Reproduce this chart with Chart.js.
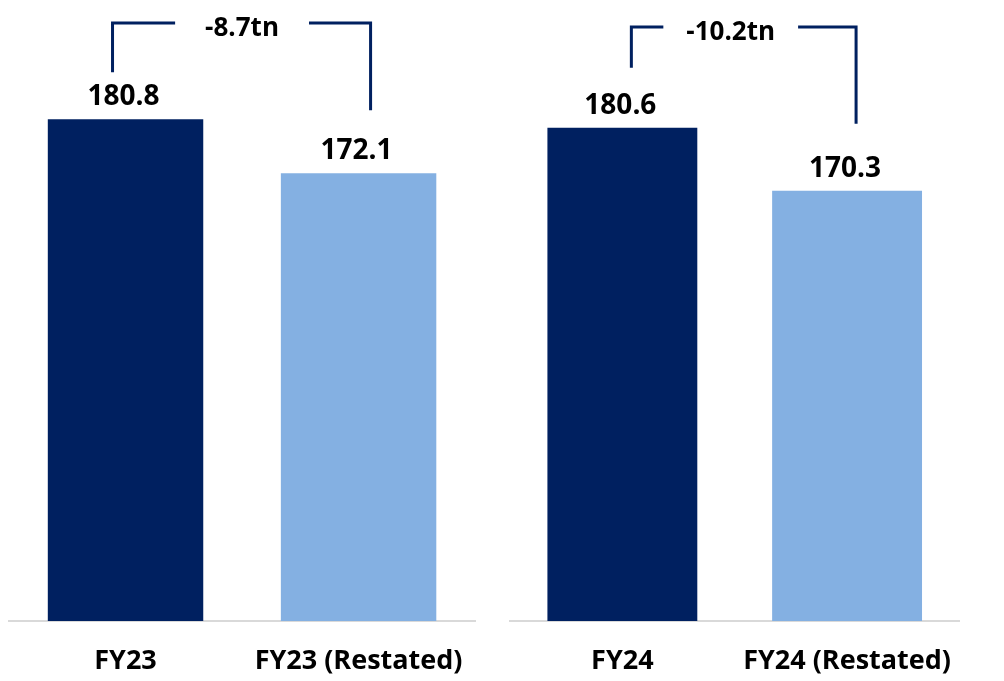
<!DOCTYPE html>
<html>
<head>
<meta charset="utf-8">
<script src="https://cdn.jsdelivr.net/npm/chart.js@4.4.1/dist/chart.umd.min.js"></script>
<style>
  html, body { margin: 0; padding: 0; background: #fff; }
  .wrap { position: relative; width: 1004px; height: 681px; overflow: hidden; }
  .panel { position: absolute; top: 0; height: 681px; }
  #left { left: 0; width: 490px; }
  #right { left: 500px; width: 480px; }
</style>
</head>
<body>
<div class="wrap">
  <div class="panel" id="left"><canvas id="c1"></canvas></div>
  <div class="panel" id="right"><canvas id="c2"></canvas></div>
</div>
<script>
// data
const fy23Labels = ['FY23', 'FY23 (Restated)'];
const fy23Values = [180.8, 172.1];
const fy23Change = '-8.7tn';

const fy24Labels = ['FY24', 'FY24 (Restated)'];
const fy24Values = [180.6, 170.3];
const fy24Change = '-10.2tn';

const barColors = ['#002060', '#84B0E2'];
const navy = '#002060';
const fontFamily = '"Open Sans", "Liberation Sans", sans-serif';

// value labels above each bar
const valueLabels = {
    id: 'valueLabels',
    afterDatasetsDraw(chart) {
        const ctx = chart.ctx;
        const meta = chart.getDatasetMeta(0);
        const data = chart.data.datasets[0].data;
        ctx.save();
        ctx.font = 'bold 28px ' + fontFamily;
        ctx.fillStyle = '#000';
        ctx.textAlign = 'center';
        ctx.textBaseline = 'alphabetic';
        meta.data.forEach((bar, i) => {
            ctx.fillText(data[i].toFixed(1), bar.x - 2, bar.y - 14);
        });
        ctx.restore();
    }
};

// bracket showing the change between the two bars
const changeBracket = {
    id: 'changeBracket',
    afterDatasetsDraw(chart, args, opts) {
        const ctx = chart.ctx;
        const bars = chart.getDatasetMeta(0).data;
        const lineY = chart.chartArea.top + opts.lineOffset;
        const x0 = bars[0].x + opts.dx[0];
        const x1 = bars[1].x + opts.dx[1];
        const mid = (bars[0].x + bars[1].x) / 2 + opts.textShift;

        ctx.save();
        ctx.font = 'bold 26px ' + fontFamily;
        const tw = ctx.measureText(opts.text).width;
        const gap = opts.gap;

        ctx.strokeStyle = navy;
        ctx.lineWidth = 3;
        ctx.lineCap = 'butt';
        ctx.beginPath();
        ctx.moveTo(x0, bars[0].y - opts.drop[0]);
        ctx.lineTo(x0, lineY);
        ctx.lineTo(mid - tw / 2 - gap, lineY);
        ctx.moveTo(mid + tw / 2 + gap, lineY);
        ctx.lineTo(x1, lineY);
        ctx.lineTo(x1, bars[1].y - opts.drop[1]);
        ctx.stroke();

        ctx.fillStyle = '#000';
        ctx.textAlign = 'center';
        ctx.textBaseline = 'middle';
        ctx.fillText(opts.text, mid, lineY + 6);
        ctx.restore();
    }
};

function makeChart(canvasId, labels, values, padding, bracket) {
    return new Chart(document.getElementById(canvasId), {
        type: 'bar',
        data: {
            labels: labels,
            datasets: [{
                data: values,
                backgroundColor: barColors,
                borderWidth: 0,
                barPercentage: 0.667,
                categoryPercentage: 1.0
            }]
        },
        options: {
            responsive: true,
            maintainAspectRatio: false,
            animation: false,
            layout: { padding: padding },
            plugins: {
                legend: { display: false },
                tooltip: { enabled: false },
                changeBracket: bracket
            },
            scales: {
                y: {
                    display: false,
                    min: 100,
                    max: 200
                },
                x: {
                    grid: { display: false, drawTicks: false },
                    border: { display: true, color: '#d9d9d9', width: 2 },
                    ticks: {
                        color: '#000',
                        padding: 24,
                        font: { family: fontFamily, size: 27, weight: 'bold' }
                    },
                    afterFit(scale) {
                        scale.height = 60;
                    }
                }
            }
        },
        plugins: [valueLabels, changeBracket]
    });
}

makeChart('c1', fy23Labels, fy23Values,
    { left: 9, right: 14, top: 0, bottom: 0 },
    { text: fy23Change, lineOffset: 23, dx: [-13, 12], drop: [47, 63], gap: 30, textShift: 0 });

makeChart('c2', fy24Labels, fy24Values,
    { left: 10, right: 20, top: 9, bottom: 0 },
    { text: fy24Change, lineOffset: 18, dx: [9, 9], drop: [60, 67], gap: 23, textShift: -4 });
</script>
</body>
</html>
